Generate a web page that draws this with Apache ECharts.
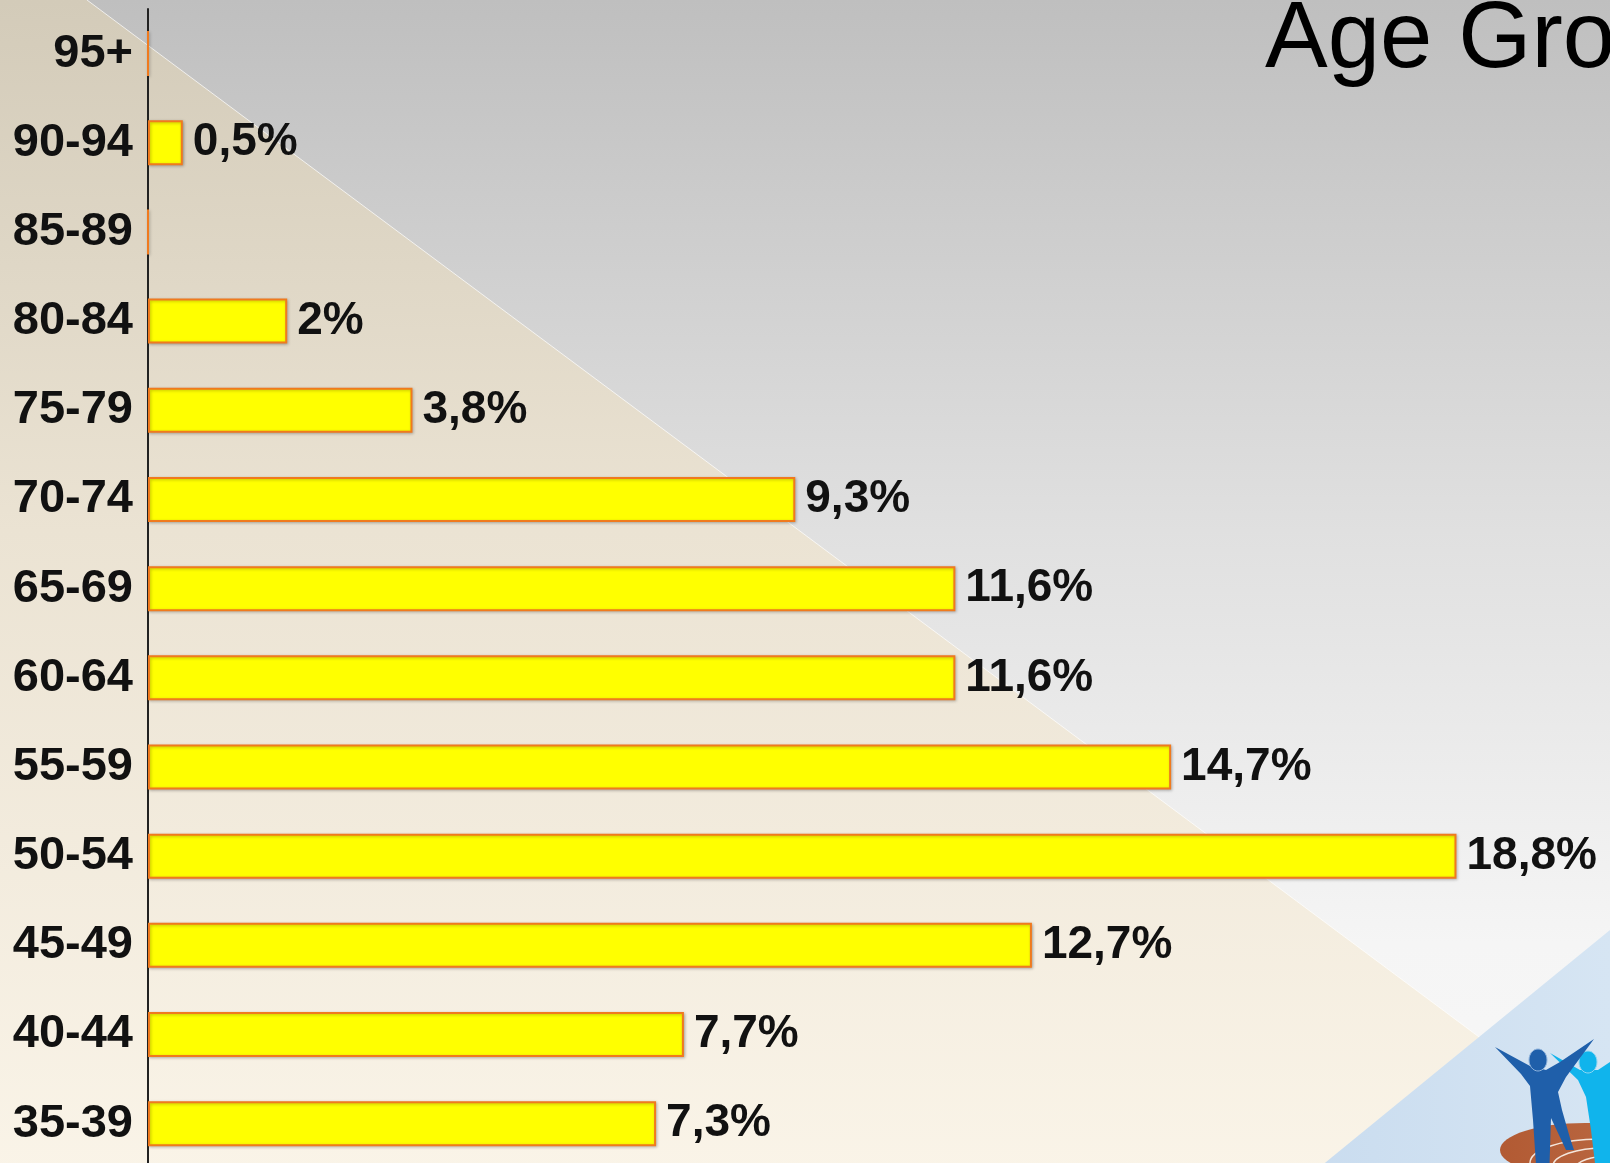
<!DOCTYPE html>
<html>
<head>
<meta charset="utf-8">
<script src="https://cdn.jsdelivr.net/npm/echarts@6/dist/echarts.min.js"></script>
<style>
html,body{margin:0;padding:0;overflow:hidden;}
#chart{width:1610px;height:1180px;}
</style>
</head>
<body>
<div id="chart"></div>
<script>
const categories = ['95+','90-94','85-89','80-84','75-79','70-74','65-69','60-64','55-59','50-54','45-49','40-44','35-39'];
const values = [0, 0.5, 0, 2, 3.8, 9.3, 11.6, 11.6, 14.7, 18.8, 12.7, 7.7, 7.3];
const titleText = 'Age Groups';

const FONT = '"Liberation Sans", Arial, sans-serif';
const chart = echarts.init(document.getElementById('chart'));

function fmt(v) {
  if (!v) return '';
  return String(v).replace('.', ',') + '%';
}

const option = {
  animation: false,
  backgroundColor: 'transparent',
  graphic: [
    { type: 'rect', z: -20, silent: true,
      shape: { x: 0, y: 0, width: 1610, height: 1180 },
      style: { fill: new echarts.graphic.LinearGradient(0, 0, 0, 1, [
        { offset: 0, color: '#bfbfbf' },
        { offset: 0.45, color: '#e0e0e0' },
        { offset: 0.8, color: '#f5f5f5' },
        { offset: 1, color: '#f8f8f8' }
      ]) } },
    { type: 'polygon', z: -19, silent: true,
      shape: { points: [[0, 0], [87, 0], [1671, 1180], [0, 1180]] },
      style: { fill: new echarts.graphic.LinearGradient(0, 0, 0, 1, [
        { offset: 0, color: '#d3cbb9' },
        { offset: 0.45, color: '#ebe3d3' },
        { offset: 1, color: '#faf4e8' }
      ]) } },
    { type: 'line', z: -18, silent: true,
      shape: { x1: 87, y1: 0, x2: 1671, y2: 1180 },
      style: { stroke: 'rgba(255,255,255,0.7)', lineWidth: 1 } },
    { type: 'polygon', z: -17, silent: true,
      shape: { points: [[1304, 1180], [1610, 930], [1610, 1180]] },
      style: { fill: new echarts.graphic.LinearGradient(0, 0, 1, 0, [
        { offset: 0, color: '#c9dcef' },
        { offset: 1, color: '#d6e5f3' }
      ]) } },
    // logo: track
    { type: 'ellipse', z: 10, silent: true,
      shape: { cx: 1585, cy: 1150, rx: 85, ry: 27 },
      style: { fill: new echarts.graphic.LinearGradient(0, 0, 1, 0, [
        { offset: 0, color: '#b25a33' },
        { offset: 0.6, color: '#b8653f' },
        { offset: 1, color: '#ddb08e' }
      ]) } },
    { type: 'ellipse', z: 11, silent: true,
      shape: { cx: 1600, cy: 1163, rx: 70, ry: 24 },
      style: { fill: 'none', stroke: '#f4e6dc', lineWidth: 1.5 } },
    { type: 'ellipse', z: 11, silent: true,
      shape: { cx: 1605, cy: 1166, rx: 52, ry: 18 },
      style: { fill: 'none', stroke: '#f4e6dc', lineWidth: 1.5 } },
    { type: 'ellipse', z: 11, silent: true,
      shape: { cx: 1610, cy: 1168, rx: 34, ry: 12 },
      style: { fill: 'none', stroke: '#f4e6dc', lineWidth: 1.5 } },
    // logo: light blue figure
    { type: 'polygon', z: 12, silent: true,
      shape: { points: [[1550, 1053], [1580, 1070], [1598, 1070], [1610, 1062], [1610, 1180], [1597, 1180], [1591, 1130], [1586, 1097], [1578, 1080]] },
      style: { fill: '#10b4ec' } },
    { type: 'ellipse', z: 12, silent: true,
      shape: { cx: 1588, cy: 1062, rx: 9, ry: 11 },
      style: { fill: '#10b4ec', stroke: '#8fd6f2', lineWidth: 1 } },
    // logo: dark blue figure
    { type: 'polygon', z: 13, silent: true,
      shape: { points: [[1495, 1047], [1530, 1066], [1546, 1070], [1560, 1062], [1594, 1039], [1566, 1077], [1558, 1092], [1562, 1110], [1570, 1138], [1574, 1150], [1566, 1150], [1551, 1118], [1549, 1180], [1537, 1180], [1533, 1120], [1530, 1086], [1521, 1074]] },
      style: { fill: '#1f5faa' } },
    { type: 'ellipse', z: 13, silent: true,
      shape: { cx: 1538, cy: 1060, rx: 9, ry: 11 },
      style: { fill: '#1f5faa', stroke: '#8fb3dc', lineWidth: 1 } },
    // title
    { type: 'text', z: 5, silent: true,
      x: 1265, y: -6,
      style: { text: titleText, font: 'normal 94px ' + FONT, fill: '#000', textVerticalAlign: 'top' } }
  ],
  grid: { left: 148, top: 9, right: 70, bottom: 11.7, containLabel: false, outerBoundsMode: 'none' },
  xAxis: {
    type: 'value', min: 0, max: 20, show: false
  },
  yAxis: {
    type: 'category', inverse: true, data: categories,
    axisLine: { show: true, lineStyle: { color: '#222', width: 2 } },
    axisTick: { show: false },
    splitLine: { show: false },
    axisLabel: {
      margin: 15, color: '#111', fontSize: 47, fontWeight: 'bold', fontFamily: FONT,
      padding: [4, 0, 0, 0]
    }
  },
  series: [{
    type: 'bar',
    data: values,
    barWidth: 45,
    itemStyle: {
      color: '#ffff00', borderColor: '#f07a1e', borderWidth: 2,
      shadowColor: 'rgba(0,0,0,0.25)', shadowBlur: 3, shadowOffsetX: 1, shadowOffsetY: 1
    },
    label: {
      show: true, position: 'right', distance: 10,
      formatter: p => fmt(p.value),
      color: '#111', fontSize: 46, fontWeight: 'bold', fontFamily: FONT,
      padding: [3, 0, 0, 0]
    }
  }]
};
chart.setOption(option);
</script>
</body>
</html>
